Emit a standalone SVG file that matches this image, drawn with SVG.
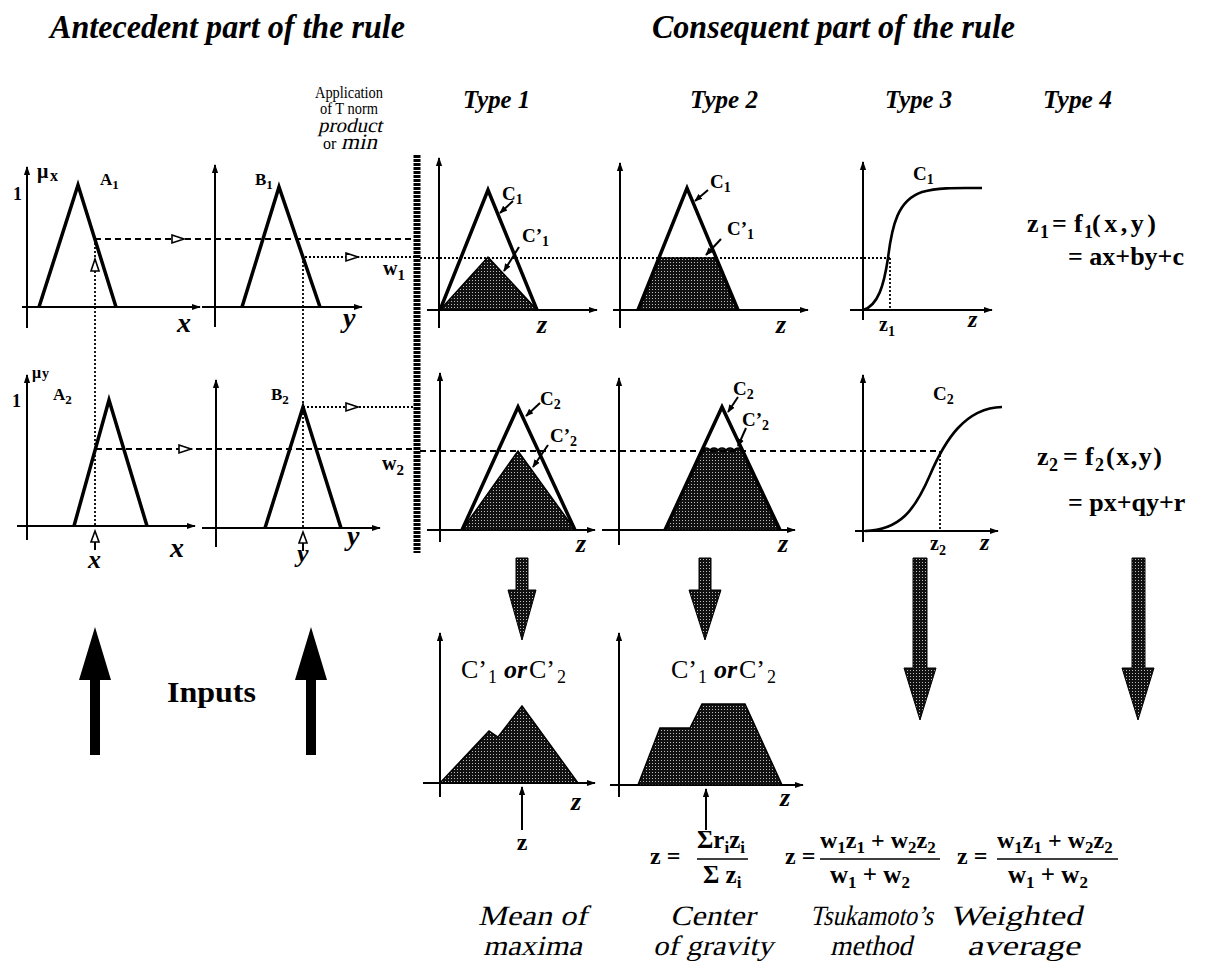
<svg xmlns="http://www.w3.org/2000/svg" width="1214" height="967" viewBox="0 0 1214 967">
<defs>
<style>
text{font-family:"Liberation Serif","Times New Roman",serif;fill:#000}
.ttl{font-size:33px;font-weight:bold;font-style:italic}
.typ{font-size:25px;font-style:italic;font-weight:bold}
.lb{font-size:19px;font-weight:bold}
.sb{font-size:14px;font-weight:bold}
.ax{stroke:#000;stroke-width:2;fill:none;marker-end:url(#ah)}
.tri{stroke:#000;stroke-width:3.5;fill:none;stroke-linejoin:miter}
.sh{fill:url(#dots);stroke:#000;stroke-width:1.5}
.dash{stroke:#000;stroke-width:1.8;stroke-dasharray:6 4;fill:none}
.dot{stroke:#000;stroke-width:1.8;stroke-dasharray:2 2;fill:none}
.ptr{stroke:#000;stroke-width:2;fill:none;marker-end:url(#ph)}
.sig{stroke:#000;stroke-width:2.6;fill:none}
.oa{fill:#fff;stroke:#000;stroke-width:1.6}
.big{fill:url(#dots);stroke:#000;stroke-width:1}
.axl{font-size:28px;font-style:italic;font-weight:bold}
.fm{font-size:26px;font-weight:bold}
.fs{font-size:18px;font-weight:bold}
.lab{font-size:28px}
</style>
<pattern id="dots" width="3" height="3" patternUnits="userSpaceOnUse">
<rect width="3" height="3" fill="#111"/>
<rect x="1" y="1" width="1" height="1" fill="#bbb"/>
</pattern>
<marker id="ah" viewBox="0 0 10 10" refX="9" refY="5" markerWidth="9" markerHeight="9" markerUnits="userSpaceOnUse" orient="auto"><path d="M0,1.5 L10,5 L0,8.5 Z" fill="#000"/></marker>
<marker id="ph" viewBox="0 0 10 10" refX="9" refY="5" markerWidth="8" markerHeight="8" markerUnits="userSpaceOnUse" orient="auto"><path d="M0,1 L10,5 L0,9 Z" fill="#000"/></marker>
</defs>
<rect width="1214" height="967" fill="#fff"/>

<g id="titles">
<text class="ttl" x="50" y="38" textLength="355" lengthAdjust="spacingAndGlyphs">Antecedent part of the rule</text>
<text class="ttl" x="652" y="38" textLength="363" lengthAdjust="spacingAndGlyphs">Consequent part of the rule</text>
<text class="typ" x="463" y="108" textLength="67" lengthAdjust="spacingAndGlyphs">Type 1</text>
<text class="typ" x="690" y="108" textLength="68" lengthAdjust="spacingAndGlyphs">Type 2</text>
<text class="typ" x="885" y="108" textLength="67" lengthAdjust="spacingAndGlyphs">Type 3</text>
<text class="typ" x="1043" y="108" textLength="69" lengthAdjust="spacingAndGlyphs">Type 4</text>
</g>

<g id="A1">
<path class="ax" d="M27,328 V167"/>
<path class="ax" d="M22,307 H200"/>
<path class="tri" d="M39,307 L78,185 L116,307"/>
<text class="fs" x="13" y="200">1</text>
<text x="37" y="178" style="font-size:20px;font-weight:bold">μ</text>
<text x="50" y="181" style="font-size:16px;font-weight:bold">x</text>
<text class="lb" x="100" y="185" style="font-size:17px">A<tspan dy="4" style="font-size:13px">1</tspan></text>
<text class="axl" x="177" y="332">x</text>
</g>

<g id="B1">
<path class="ax" d="M215,327 V165"/>
<path class="ax" d="M202,307 H362"/>
<path class="tri" d="M242,307 L279,187 L320,307"/>
<text class="lb" x="255" y="185" style="font-size:17px">B<tspan dy="4" style="font-size:13px">1</tspan></text>
<text class="axl" x="343" y="327">y</text>
</g>

<g id="A2">
<path class="ax" d="M27,540 V375"/>
<path class="ax" d="M17,526 H195"/>
<path class="tri" d="M74,526 L109,400 L147,526"/>
<text class="fs" x="12" y="407">1</text>
<text x="32" y="378" style="font-size:16px;font-weight:bold">μ</text>
<text x="42" y="378" style="font-size:14px;font-weight:bold">y</text>
<text class="lb" x="53" y="400" style="font-size:17px">A<tspan dy="4" style="font-size:13px">2</tspan></text>
<text class="axl" x="170" y="557">x</text>
<text class="axl" x="88" y="568" style="font-size:26px">x</text>
</g>

<g id="B2">
<path class="ax" d="M216,547 V380"/>
<path class="ax" d="M202,528 H380"/>
<path class="tri" d="M265,528 L303,407 L341,528"/>
<text class="lb" x="271" y="400" style="font-size:17px">B<tspan dy="4" style="font-size:13px">2</tspan></text>
<text class="axl" x="347" y="545">y</text>
<text class="axl" x="297" y="562" style="font-size:26px">y</text>
</g>

<g id="tnorm">
<line x1="417" y1="155" x2="417" y2="553" stroke="#000" stroke-width="7" stroke-dasharray="3 1"/>
<text x="349" y="98" text-anchor="middle" style="font-size:16px" textLength="68" lengthAdjust="spacingAndGlyphs">Application</text>
<text x="349" y="114" text-anchor="middle" style="font-size:16px" textLength="58" lengthAdjust="spacingAndGlyphs">of T norm</text>
<text transform="translate(318,132) skewX(-13)" x="0" y="0" style="font-size:20px" textLength="64" lengthAdjust="spacingAndGlyphs">product</text>
<text x="323" y="149" style="font-size:16px">or</text>
<text transform="translate(341,149) skewX(-13)" x="0" y="0" style="font-size:22px" textLength="36" lengthAdjust="spacingAndGlyphs">min</text>
<text class="lb" x="383" y="275" style="font-size:20px">w<tspan dy="5" style="font-size:15px">1</tspan></text>
<text class="lb" x="382" y="470" style="font-size:20px">w<tspan dy="5" style="font-size:15px">2</tspan></text>
</g>

<g id="type1-rule1">
<path class="ax" d="M439,328 V158"/>
<path class="ax" d="M427,310 H597"/>
<polygon class="sh" points="440,310 488,257 537,310"/>
<path class="tri" d="M440,310 L488,190 L537,310"/>
<text class="lb" x="502" y="200">C<tspan class="sb" dy="4">1</tspan></text>
<text class="lb" x="522" y="242">C’<tspan class="sb" dy="4">1</tspan></text>
<text class="axl" x="537" y="333" style="font-size:26px">z</text>
</g>

<g id="type2-rule1">
<path class="ax" d="M620,328 V163"/>
<path class="ax" d="M613,310 H808"/>
<polygon class="sh" points="638,310 659,258 716,258 738,310"/>
<path class="tri" d="M638,310 L687,188 L738,310"/>
<text class="lb" x="710" y="188">C<tspan class="sb" dy="4">1</tspan></text>
<text class="lb" x="727" y="235">C’<tspan class="sb" dy="4">1</tspan></text>
<text class="axl" x="776" y="333" style="font-size:26px">z</text>
</g>

<g id="type3-rule1">
<path class="ax" d="M863,320 V162"/>
<path class="ax" d="M850,310 H992"/>
<path class="sig" d="M863,310 C878,306 884,285 888,258 C892,225 898,200 922,192 C940,187 960,188 982,188"/>
<text class="lb" x="913" y="180">C<tspan class="sb" dy="4">1</tspan></text>
<text class="lb" x="879" y="331" style="font-size:20px">z<tspan dy="5" style="font-size:14px">1</tspan></text>
<text class="axl" x="968" y="327" style="font-size:24px">z</text>
</g>

<g id="type4-rule1">
<text class="fm" x="1027" y="232">z<tspan x="1040" dy="6" style="font-size:18px">1</tspan><tspan x="1052" dy="-6">=</tspan><tspan x="1074">f</tspan><tspan x="1084" dy="6" style="font-size:18px">1</tspan><tspan x="1092" dy="-6" style="letter-spacing:3.5px">(x,y)</tspan></text>
<text class="fm" x="1068" y="265">= ax+by+c</text>
</g>

<g id="type1-rule2">
<path class="ax" d="M440,542 V373"/>
<path class="ax" d="M427,530 H595"/>
<polygon class="sh" points="462,530 518,451 575,530"/>
<path class="tri" d="M462,530 L518,407 L575,530"/>
<text class="lb" x="540" y="405">C<tspan class="sb" dy="4">2</tspan></text>
<text class="lb" x="550" y="442">C’<tspan class="sb" dy="4">2</tspan></text>
<text class="axl" x="576" y="552" style="font-size:26px">z</text>
</g>

<g id="type2-rule2">
<path class="ax" d="M619,545 V378"/>
<path class="ax" d="M602,530 H795"/>
<path class="sh" d="M665,530 L702,451 a4,3 0 0 1 8,0 a4,3 0 0 1 8,0 a4,3 0 0 1 8,0 a4,3 0 0 1 8,0 a4.5,3 0 0 1 9,0 L780,530 Z"/>
<path class="tri" d="M665,530 L722,407 L780,530"/>
<text class="lb" x="733" y="395">C<tspan class="sb" dy="4">2</tspan></text>
<text class="lb" x="742" y="426">C’<tspan class="sb" dy="4">2</tspan></text>
<text class="axl" x="778" y="552" style="font-size:26px">z</text>
</g>

<g id="type3-rule2">
<path class="ax" d="M863,542 V375"/>
<path class="ax" d="M855,531 H998"/>
<path class="sig" d="M865,531 C900,530 915,510 930,475 C945,440 965,408 1002,407"/>
<text class="lb" x="933" y="400">C<tspan class="sb" dy="4">2</tspan></text>
<text class="lb" x="930" y="550" style="font-size:20px">z<tspan dy="5" style="font-size:14px">2</tspan></text>
<text class="axl" x="980" y="550" style="font-size:24px">z</text>
</g>

<g id="type4-rule2">
<text class="fm" x="1037" y="465">z<tspan x="1049" dy="6" style="font-size:18px">2</tspan><tspan x="1063" dy="-6">=</tspan><tspan x="1085">f</tspan><tspan x="1095" dy="6" style="font-size:18px">2</tspan><tspan x="1106" dy="-6" style="letter-spacing:1.5px">(x,y)</tspan></text>
<text class="fm" x="1068" y="511">= px+qy+r</text>
</g>

<g id="inputs">
<polygon points="90,755 100,755 100,680 111,680 95,627 79,680 90,680" fill="#000"/>
<polygon points="306,755 316,755 316,680 327,680 311,627 295,680 306,680" fill="#000"/>
<text x="167" y="702" style="font-size:30px;font-weight:bold" textLength="89" lengthAdjust="spacingAndGlyphs">Inputs</text>
</g>

<g id="mean-of-maxima">
<path class="ax" d="M440,797 V633"/>
<path class="ax" d="M423,783 H595"/>
<polygon class="sh" points="440,783 489,731 498,737 522,706 578,783"/>
<text style="font-size:26px" y="678"><tspan x="461">C’</tspan><tspan x="488" dy="5" style="font-size:18px">1</tspan><tspan x="504" dy="-5" style="font-style:italic;font-weight:bold">or</tspan><tspan x="529">C’</tspan><tspan x="557" dy="5" style="font-size:18px">2</tspan></text>
<text class="axl" x="571" y="810" style="font-size:26px">z</text>
<text x="522" y="850" text-anchor="middle" style="font-size:24px;font-weight:bold">z</text>
<text class="lab" transform="translate(478,925) skewX(-13)" x="0" y="0" textLength="109" lengthAdjust="spacingAndGlyphs">Mean of</text>
<text class="lab" transform="translate(483,955) skewX(-13)" x="0" y="0" textLength="99" lengthAdjust="spacingAndGlyphs">maxima</text>
</g>

<g id="center-of-gravity">
<path class="ax" d="M619,797 V633"/>
<path class="ax" d="M610,785 H803"/>
<polygon class="sh" points="638,785 660,728 690,728 702,704 745,704 782,785"/>
<text style="font-size:26px" y="678"><tspan x="671">C’</tspan><tspan x="698" dy="5" style="font-size:18px">1</tspan><tspan x="714" dy="-5" style="font-style:italic;font-weight:bold">or</tspan><tspan x="739">C’</tspan><tspan x="767" dy="5" style="font-size:18px">2</tspan></text>
<text class="axl" x="780" y="806" style="font-size:26px">z</text>
<text x="650" y="864" style="font-size:24px;font-weight:bold">z =</text>
<text x="697" y="848" style="font-size:25px;font-weight:bold">Σr<tspan dy="5" style="font-size:17px">i</tspan><tspan dy="-5">z</tspan><tspan dy="5" style="font-size:17px">i</tspan></text>
<line x1="697" y1="859" x2="748" y2="859" stroke="#000" stroke-width="1.5"/>
<text x="703" y="883" style="font-size:25px;font-weight:bold">Σ z<tspan dy="5" style="font-size:17px">i</tspan></text>
<text class="lab" transform="translate(670,925) skewX(-13)" x="0" y="0" textLength="85" lengthAdjust="spacingAndGlyphs">Center</text>
<text class="lab" transform="translate(653,955) skewX(-13)" x="0" y="0" textLength="120" lengthAdjust="spacingAndGlyphs">of gravity</text>
</g>

<g id="tsukamoto">
<text x="785" y="864" style="font-size:24px;font-weight:bold">z =</text>
<text x="820" y="848" style="font-size:24px;font-weight:bold">w<tspan dy="5" style="font-size:17px">1</tspan><tspan dy="-5">z</tspan><tspan dy="5" style="font-size:17px">1</tspan><tspan dy="-5"> + w</tspan><tspan dy="5" style="font-size:17px">2</tspan><tspan dy="-5">z</tspan><tspan dy="5" style="font-size:17px">2</tspan></text>
<line x1="820" y1="859" x2="940" y2="859" stroke="#000" stroke-width="1.5"/>
<text x="830" y="883" style="font-size:25px;font-weight:bold">w<tspan dy="5" style="font-size:17px">1</tspan><tspan dy="-5"> + w</tspan><tspan dy="5" style="font-size:17px">2</tspan></text>
<text class="lab" transform="translate(810,925) skewX(-13)" x="0" y="0" textLength="123" lengthAdjust="spacingAndGlyphs">Tsukamoto’s</text>
<text class="lab" transform="translate(830,955) skewX(-13)" x="0" y="0" textLength="82" lengthAdjust="spacingAndGlyphs">method</text>
</g>

<g id="weighted-average">
<text x="957" y="864" style="font-size:24px;font-weight:bold">z =</text>
<text x="997" y="848" style="font-size:24px;font-weight:bold">w<tspan dy="5" style="font-size:17px">1</tspan><tspan dy="-5">z</tspan><tspan dy="5" style="font-size:17px">1</tspan><tspan dy="-5"> + w</tspan><tspan dy="5" style="font-size:17px">2</tspan><tspan dy="-5">z</tspan><tspan dy="5" style="font-size:17px">2</tspan></text>
<line x1="997" y1="859" x2="1118" y2="859" stroke="#000" stroke-width="1.5"/>
<text x="1008" y="883" style="font-size:25px;font-weight:bold">w<tspan dy="5" style="font-size:17px">1</tspan><tspan dy="-5"> + w</tspan><tspan dy="5" style="font-size:17px">2</tspan></text>
<text class="lab" transform="translate(950,925) skewX(-13)" x="0" y="0" textLength="132" lengthAdjust="spacingAndGlyphs">Weighted</text>
<text class="lab" transform="translate(967,955) skewX(-13)" x="0" y="0" textLength="113" lengthAdjust="spacingAndGlyphs">average</text>
</g>

<g id="connectors">
<path class="dash" d="M95,239 H414"/>
<polygon class="oa" points="172,235 184,239 172,243"/>
<path class="dot" d="M305,257 H414"/>
<polygon class="oa" points="346,253 358,257 346,261"/>
<path class="dot" d="M420,258 H890"/>
<path class="dot" d="M890,258 V310"/>
<path class="dot" d="M95,239 V526"/>
<polygon class="oa" points="95,259 99,271 91,271"/>
<path class="dot" d="M303,257 V528"/>
<path class="dash" d="M96,449 H414"/>
<polygon class="oa" points="179,445 191,449 179,453"/>
<path class="dot" d="M303,407 H414"/>
<polygon class="oa" points="346,403 358,407 346,411"/>
<path class="dash" d="M420,451 H940"/>
<path class="dot" d="M940,451 V531"/>
<polygon class="oa" points="95,531 99,542 91,542"/>
<line x1="95" y1="542" x2="95" y2="550" stroke="#000" stroke-width="2"/>
<polygon class="oa" points="303,532 307,543 299,543"/>
<line x1="303" y1="543" x2="303" y2="551" stroke="#000" stroke-width="2"/>
<path class="ptr" d="M513,201 L500,213"/>
<path class="ptr" d="M519,247 L504,271"/>
<path class="ptr" d="M708,190 L695,201"/>
<path class="ptr" d="M721,239 L706,255"/>
<path class="ptr" d="M540,403 L526,416"/>
<path class="ptr" d="M548,445 L533,467"/>
<path class="ptr" d="M738,397 L728,412"/>
<path class="ptr" d="M746,428 L738,446"/>
<path class="ax" d="M522,830 V787"/>
<path class="ax" d="M706,830 V789"/>
<polygon class="big" points="516,558 528,558 528,590 536,590 522,640 508,590 516,590"/>
<polygon class="big" points="699,558 711,558 711,590 721,590 705,640 689,590 699,590"/>
<polygon class="big" points="913,558 927,558 927,668 936,668 920,720 904,668 913,668"/>
<polygon class="big" points="1132,558 1145,558 1145,668 1154,668 1138,720 1122,668 1132,668"/>
</g>
</svg>
